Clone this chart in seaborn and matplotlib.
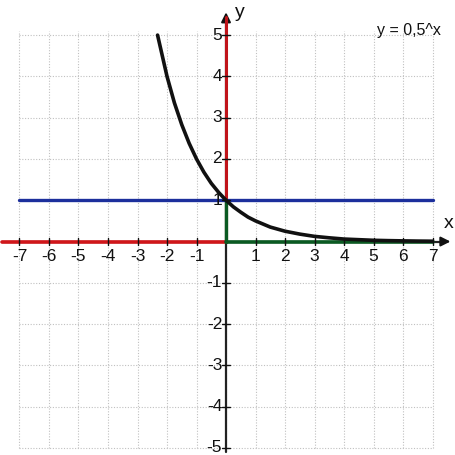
import numpy as np
import pandas as pd
import seaborn as sns
import matplotlib
matplotlib.use("Agg")
import matplotlib.pyplot as plt

# values
curve_x = [-2.32, -2.0, -1.75, -1.5, -1.25, -1.0, -0.75, -0.5, -0.25, 0.0, 0.25, 0.5, 0.75, 1.0,
           1.5, 2.0, 2.5, 3.0, 3.5, 4.0, 4.5, 5.0, 5.5, 6.0, 6.5, 7.0]
curve_y = [5.0, 4.0, 3.36, 2.83, 2.38, 2.0, 1.68, 1.41, 1.19, 1.0, 0.84, 0.71, 0.59, 0.5,
           0.35, 0.25, 0.18, 0.125, 0.09, 0.06, 0.045, 0.03, 0.022, 0.016, 0.011, 0.008]
x_ticks = [-7, -6, -5, -4, -3, -2, -1, 1, 2, 3, 4, 5, 6, 7]
y_ticks = [-5, -4, -3, -2, -1, 1, 2, 3, 4, 5]
label_text = "y = 0,5^x"

sns.set_style("white")
plt.rcParams['font.family'] = ['Liberation Sans', 'DejaVu Sans']

fig = plt.figure(figsize=(4.55, 4.55), dpi=100)
ax = fig.add_axes([0, 0, 1, 1])
ax.set_xlim(-7.66, 7.76)
ax.set_ylim(-5.17, 5.85)

# dotted grid
ax.hlines(y_ticks + [0], -7, 7, colors="#c0c0c0", linestyles=(0, (1, 1.5)), linewidth=0.8, zorder=0)
ax.vlines(x_ticks + [0], -5, 5.1, colors="#c0c0c0", linestyles=(0, (1, 1.5)), linewidth=0.8, zorder=0)

# axes lines
ax.plot([0, 0], [-5.1, 5.4], color="#222222", lw=1.6, zorder=2)
ax.annotate("", xy=(0, 5.62), xytext=(0, 5.3),
            arrowprops=dict(arrowstyle="-|>", color="#111111", lw=1.5, mutation_scale=14), zorder=3)
ax.plot([-7.6, 7.4], [0, 0], color="#222222", lw=1.6, zorder=2)
ax.annotate("", xy=(7.7, 0), xytext=(7.2, 0),
            arrowprops=dict(arrowstyle="-|>", color="#111111", lw=1.5, mutation_scale=14), zorder=3)

# colored segments
ax.plot([-7.6, 0], [0, 0], color="#d0161a", lw=2.6, zorder=3)
ax.plot([0, 0], [0, 5.45], color="#c0141a", lw=2.2, zorder=3)
ax.plot([0, 7], [0, 0], color="#0b5a22", lw=2.6, zorder=3)
ax.plot([0, 0], [0, 1], color="#0b5a22", lw=2.4, zorder=4)
ax.plot([-7, 7], [1, 1], color="#1c2f9c", lw=2.4, zorder=3)

df = pd.DataFrame({"x": curve_x, "y": curve_y})
sns.lineplot(data=df, x="x", y="y", ax=ax, color="#111111", lw=2.6, zorder=5, sort=False)

# ticks and labels
for t in x_ticks:
    ax.plot([t, t], [-0.08, 0.08], color="#111111", lw=1.0, zorder=4)
    ax.text(t, -0.18, str(t), ha="center", va="top", fontsize=12.5, color="#111111")
for t in y_ticks:
    ax.plot([-0.12, 0.12], [t, t], color="#111111", lw=1.0, zorder=4)
    ax.text(-0.13, t, str(t), ha="right", va="center", fontsize=12.5, color="#111111")

ax.text(7.55, 0.22, "x", ha="center", va="bottom", fontsize=14, color="#111111")
ax.text(0.3, 5.55, "y", ha="left", va="center", fontsize=14, color="#111111")
ax.text(5.1, 5.12, label_text, ha="left", va="center", fontsize=11.5, color="#111111")

ax.set_xlabel("")
ax.set_ylabel("")
ax.set_xticks([])
ax.set_yticks([])
for s in ax.spines.values():
    s.set_visible(False)

fig.savefig("out.png", dpi=100, facecolor="white")
